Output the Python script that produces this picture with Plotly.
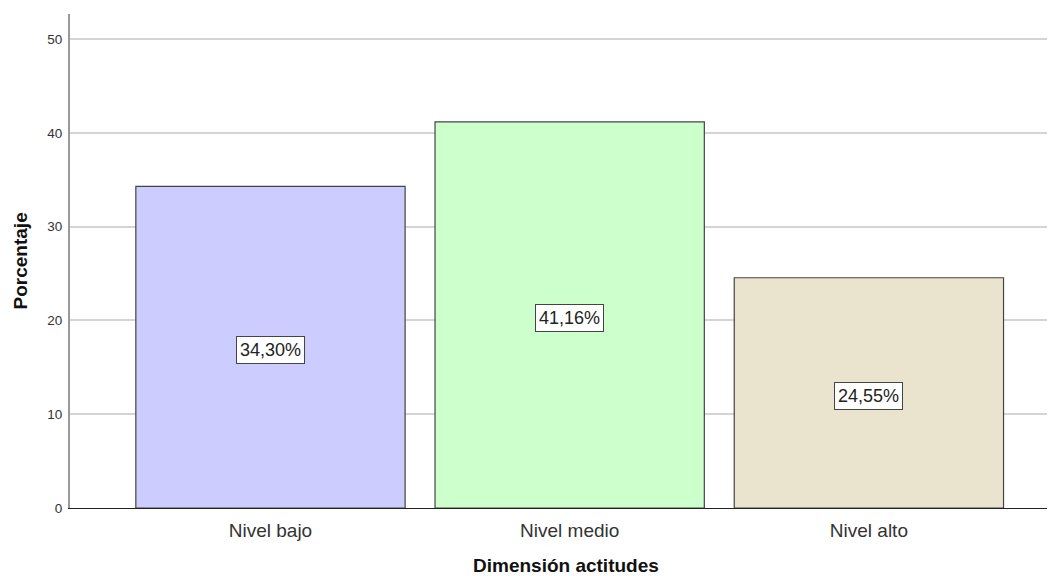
import plotly.graph_objects as go

categories = ["Nivel bajo", "Nivel medio", "Nivel alto"]
percentages = [34.30, 41.16, 24.55]
labels = ["34,30%", "41,16%", "24,55%"]
bar_colors = ["#CCCCFF", "#CCFFCC", "#EAE4CE"]
y_ticks = [0, 10, 20, 30, 40, 50]

FONT = "Arial, Liberation Sans"

fig = go.Figure()
fig.add_trace(go.Bar(
    x=categories, y=percentages, width=0.9,
    marker=dict(color=bar_colors, line=dict(color="#444444", width=1.2)),
    hoverinfo="skip",
))

for c, v, t in zip(categories, percentages, labels):
    fig.add_annotation(
        x=c, y=v / 2, text=t, showarrow=False, yshift=-3,
        font=dict(family=FONT, size=18, color="#222222"),
        bgcolor="white", bordercolor="#444444", borderwidth=1, borderpad=3,
    )

fig.add_annotation(
    xref="paper", yref="paper", x=0.504, y=-0.117, xanchor="center", yanchor="middle",
    text="<b>Dimensión actitudes</b>", showarrow=False,
    font=dict(family=FONT, size=19, color="#111111"),
)
fig.add_annotation(
    xref="paper", yref="paper", x=-0.0503, y=0.5, xanchor="center", yanchor="middle",
    text="<b>Porcentaje</b>", showarrow=False, textangle=-90,
    font=dict(family=FONT, size=19, color="#111111"),
)

fig.update_layout(
    width=1047, height=568,
    margin=dict(l=62, r=0, t=6, b=68, autoexpand=False),
    paper_bgcolor="white", plot_bgcolor="white",
    showlegend=False,
    font=dict(family=FONT),
    xaxis=dict(
        range=[-0.67, 2.622], automargin=False,
        showgrid=False, showline=True, linecolor="#222222", linewidth=1,
        ticks="", tickfont=dict(size=19, color="#333333"), ticklabelstandoff=5,
    ),
    yaxis=dict(
        range=[0, 52.67], tickvals=y_ticks, automargin=False,
        showgrid=True, gridcolor="#D4D4D4", gridwidth=1.5,
        showline=True, linecolor="#999999", linewidth=2,
        ticks="", tickfont=dict(size=13.5, color="#333333"), ticklabelstandoff=3,
        zeroline=False,
    ),
)

fig.write_html("out.html")
